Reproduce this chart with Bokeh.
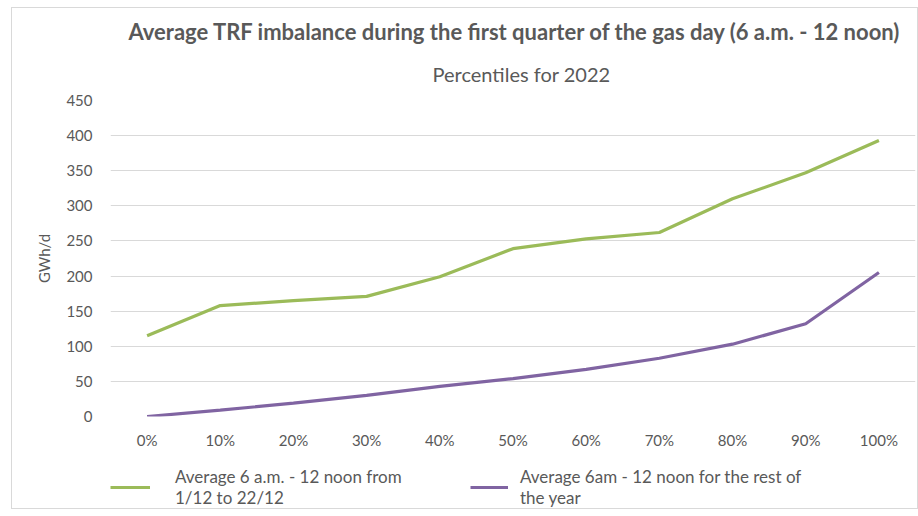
from bokeh.plotting import figure
from bokeh.layouts import column
from bokeh.models import Title, Legend, LegendItem, FactorRange, Range1d
from bokeh.embed import file_html
from bokeh.resources import INLINE

percentiles = ["0%", "10%", "20%", "30%", "40%", "50%", "60%", "70%", "80%", "90%", "100%"]
december = [115, 158, 165, 171, 199, 239, 253, 262, 310, 347, 393]
rest_of_year = [0, 9, 19, 30, 43, 54, 67, 83, 103, 132, 205]
y_ticks = [0, 50, 100, 150, 200, 250, 300, 350, 400, 450]
series_labels = ["Average 6 a.m. - 12 noon from\n1/12 to 22/12",
                 "Average 6am - 12 noon for the rest of\nthe year"]
colors = ["#9BBB59", "#8064A2"]

FONT = "Lato"
GRAY = "#595959"

p = figure(frame_width=805, frame_height=316, x_range=FactorRange(*percentiles), y_range=Range1d(0, 450),
           output_backend="svg", toolbar_location=None,
           min_border_left=98, min_border_right=2, min_border_top=92, min_border_bottom=40)
p.outline_line_color = None
p.border_fill_color = "white"

p.line(percentiles, december, line_color=colors[0], line_width=3.2)
p.line(percentiles, rest_of_year, line_color=colors[1], line_width=3.2)

p.yaxis.ticker = y_ticks
p.yaxis.axis_label = "GWh/d"
p.yaxis.axis_label_text_font = FONT
p.yaxis.axis_label_text_font_style = "normal"
p.yaxis.axis_label_text_font_size = "15px"
p.yaxis.axis_label_text_color = GRAY
p.yaxis.axis_label_standoff = 10
for ax in (p.xaxis, p.yaxis):
    ax.axis_line_color = None
    ax.major_tick_line_color = None
    ax.minor_tick_line_color = None
    ax.major_label_text_font = FONT
    ax.major_label_text_font_size = "15px"
    ax.major_label_text_color = GRAY
p.yaxis.major_label_standoff = 12
p.xaxis.major_label_standoff = 8

p.xgrid.grid_line_color = None
p.ygrid.grid_line_color = "#d9d9d9"
p.ygrid.grid_line_width = 1

sub = Title(text="Percentiles for 2022", align="left", offset=322, standoff=29,
            text_font=FONT, text_font_size="20px", text_font_style="normal", text_color=GRAY)
main = Title(text="Average TRF imbalance during the first quarter of the gas day (6 a.m. - 12 noon)",
             align="left", offset=18, standoff=1, text_font=FONT, text_font_size="22px",
             text_font_style="bold", text_color=GRAY)
p.add_layout(sub, "above")
p.add_layout(main, "above")

# legend strip below the chart
p2 = figure(width=905, height=52, x_range=FactorRange(*percentiles), y_range=Range1d(1000, 1001),
            output_backend="svg", toolbar_location=None,
            min_border_left=0, min_border_right=0, min_border_top=0, min_border_bottom=0)
p2.axis.visible = False
p2.grid.grid_line_color = None
p2.outline_line_color = None
l1 = p2.line(percentiles, december, line_color=colors[0], line_width=3.2)
l2 = p2.line(percentiles, rest_of_year, line_color=colors[1], line_width=3.2)

common = dict(margin=0, padding=0, label_text_font=FONT, label_text_font_size="17px",
              label_text_color=GRAY, border_line_color=None, background_fill_alpha=0)
leg1 = Legend(items=[LegendItem(label=series_labels[0], renderers=[l1])],
              location=(0, 0), glyph_width=40, label_standoff=25, **common)
leg2 = Legend(items=[LegendItem(label=series_labels[1], renderers=[l2])],
              location=(360, 0), glyph_width=38, label_standoff=12, **common)
p2.add_layout(leg1)
p2.add_layout(leg2)

layout = column(p, p2, spacing=0)
layout.styles = {"border": "1px solid #d9d9d9", "margin-left": "11px", "margin-top": "7px"}

open("out.html", "w").write(file_html(layout, INLINE))
